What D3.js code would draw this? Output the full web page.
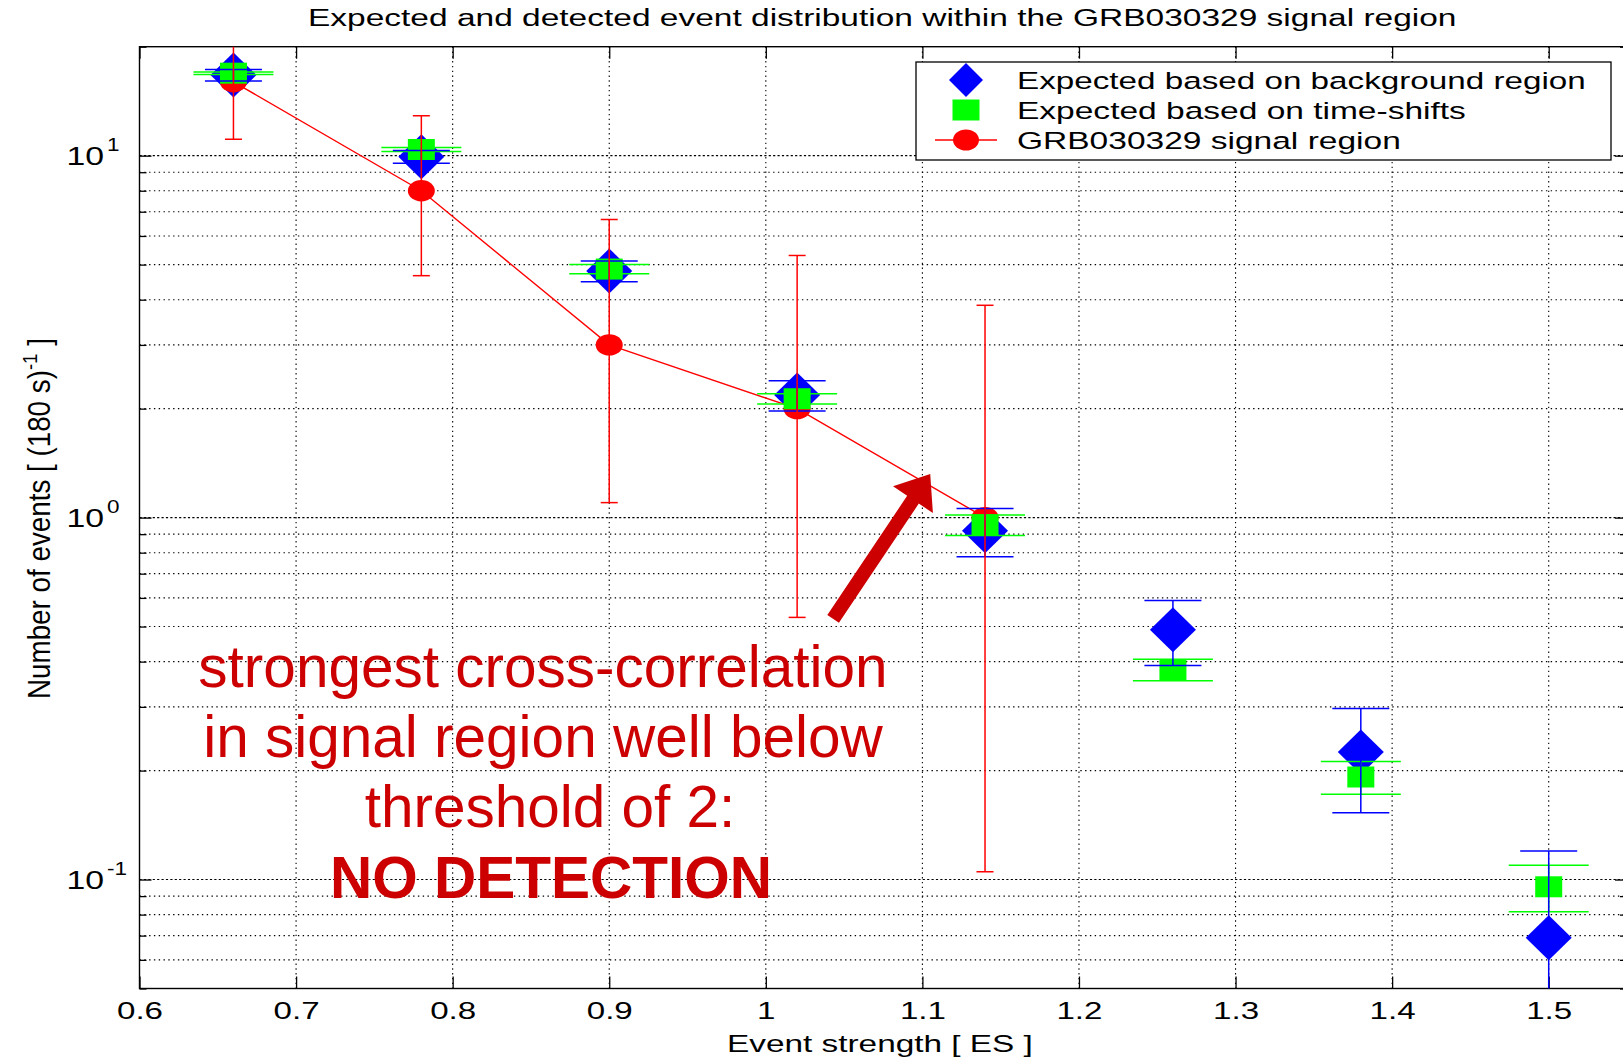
<!DOCTYPE html>
<html>
<head>
<meta charset="utf-8">
<script src="https://cdn.jsdelivr.net/npm/d3@7"></script>
<style>
  html, body { margin: 0; padding: 0; background: #fff; overflow: hidden; }
  svg { display: block; }
  text { font-family: "Liberation Sans", Arial, Helvetica, sans-serif; }
</style>
</head>
<body>
<svg id="chart" width="1623" height="1058"></svg>
<script>
// ---- data ----------------------------------------------------------------
// Event-strength bins shared by the two "expected" series
const esBins = [0.66, 0.78, 0.90, 1.02, 1.14, 1.26, 1.38, 1.50];
// Expected counts from the background region (blue diamonds) and their errors
const bgExpected = [16.7, 9.93, 4.80, 2.18, 0.92, 0.49, 0.225, 0.069];
const bgError    = [0.61, 0.40, 0.32, 0.21, 0.14, 0.10, 0.072, 0.051];
// Expected counts from time-shifts (green squares) and their errors
const tsExpected = [16.9, 10.4, 4.86, 2.13, 0.955, 0.38, 0.192, 0.0955];
const tsError    = [0.14, 0.13, 0.14, 0.07, 0.062, 0.026, 0.020, 0.014];
// Counts detected in the GRB030329 signal region (red circles) with intervals
const signalBins  = [0.66, 0.78, 0.90, 1.02, 1.14];
const signalCount = [16, 8, 3, 2, 1];
const signalLow   = [11.1, 4.66, 1.10, 0.53, 0.105];
const signalHigh  = [22.5, 12.9, 6.66, 5.30, 3.86];

// Axis ticks
const xTicks      = [0.6, 0.7, 0.8, 0.9, 1.0, 1.1, 1.2, 1.3, 1.4, 1.5];
const xTickLabels = ["0.6", "0.7", "0.8", "0.9", "1", "1.1", "1.2", "1.3", "1.4", "1.5"];
const yDecades    = [0.1, 1, 10];
const yDecadeExp  = ["-1", "0", "1"];
const yMinor      = [0.05, 0.06, 0.07, 0.08, 0.09,
                     0.2, 0.3, 0.4, 0.5, 0.6, 0.7, 0.8, 0.9,
                     2, 3, 4, 5, 6, 7, 8, 9, 20];

// Texts
const titleText  = "Expected and detected event distribution within the GRB030329 signal region";
const xLabelText = "Event strength [ ES ]";
const legendLabels = ["Expected based on background region",
                      "Expected based on time-shifts",
                      "GRB030329 signal region"];
const noteLines = ["strongest cross-correlation",
                   "in signal region well below",
                   "threshold of 2:"];
const noteVerdict = "NO DETECTION";
// Arrow from the note towards the signal-region curve, in data units [ES, events]
const arrowFrom = [1.043, 0.525];
const arrowTo   = [1.105, 1.32];

// ---- layout ----------------------------------------------------------------
const svg = d3.select("#chart");
const x = d3.scaleLinear().domain([0.6, 1.55]).range([139.5, 1627]);
const y = d3.scaleLog().domain([0.05, 20]).range([988.5, 46.7]);
const [X0, X1] = x.range();
const [YB, YT] = y.range();

const BLUE = "#0000ff", GREEN = "#00ff00", RED = "#ff0000", NOTE = "#cc0000";

svg.append("rect").attr("width", 1623).attr("height", 1058).attr("fill", "#fff");

svg.append("defs").append("clipPath").attr("id", "plotClip")
  .append("rect").attr("x", X0).attr("y", YT).attr("width", X1 - X0).attr("height", YB - YT);

// Stretched text helper: a group holding one text, scaled horizontally
function sText(parent, tx, ty, str, size, sx, anchor, weight) {
  const g = parent.append("g").attr("transform", `translate(${tx},${ty}) scale(${sx},1)`);
  const t = g.append("text").attr("font-size", size).attr("text-anchor", anchor || "start")
    .attr("fill", "#000").text(str);
  if (weight) t.attr("font-weight", weight);
  return t;
}
// Fit a text to a given width by horizontal scaling
function fitText(parent, tx, ty, str, size, width, anchor, fill, weight) {
  const g = parent.append("g");
  const t = g.append("text").attr("font-size", size).attr("text-anchor", anchor || "start")
    .attr("fill", fill || "#000").text(str);
  if (weight) t.attr("font-weight", weight);
  const w = t.node().getComputedTextLength();
  g.attr("transform", `translate(${tx},${ty}) scale(${width / w},1)`);
  return t;
}

// ---- grid ----------------------------------------------------------------
const grid = svg.append("g").attr("clip-path", "url(#plotClip)").attr("stroke", "#000").attr("stroke-width", 1.1);
grid.selectAll("line.vg").data(xTicks.slice(1)).join("line").attr("class", "vg")
  .attr("x1", d => x(d)).attr("x2", d => x(d)).attr("y1", YT).attr("y2", YB)
  .attr("stroke-dasharray", "1.4,3.4");
grid.selectAll("line.hm").data(yMinor.filter(v => v > 0.05 && v < 20)).join("line").attr("class", "hm")
  .attr("x1", X0).attr("x2", X1).attr("y1", d => y(d)).attr("y2", d => y(d))
  .attr("stroke-dasharray", "1.4,3.4");
grid.selectAll("line.hd").data(yDecades).join("line").attr("class", "hd")
  .attr("x1", X0).attr("x2", X1).attr("y1", d => y(d)).attr("y2", d => y(d))
  .attr("stroke-dasharray", "2.2,2.2");

// ---- axes ----------------------------------------------------------------
function styleAxis(g) {
  g.select(".domain").remove();
  g.selectAll(".tick line").attr("stroke", "#000").attr("stroke-width", 1.3);
}
const xAxisB = svg.append("g").attr("transform", `translate(0,${YB})`)
  .call(d3.axisBottom(x).tickValues(xTicks).tickSizeInner(-12).tickSizeOuter(0)
        .tickPadding(13).tickFormat((d, i) => xTickLabels[i]))
  .call(styleAxis);
xAxisB.attr("font-size", null).attr("font-family", null);
xAxisB.selectAll(".tick text").attr("font-size", 24).attr("fill", "#000")
  .attr("transform", "scale(1.38,1)");

svg.append("g").attr("transform", `translate(0,${YT})`)
  .call(d3.axisTop(x).tickValues(xTicks).tickSizeInner(-12).tickFormat(""))
  .call(styleAxis);
svg.append("g").attr("transform", `translate(${X0},0)`)
  .call(d3.axisLeft(y).tickValues(yDecades).tickSizeInner(-12).tickFormat(""))
  .call(styleAxis);
svg.append("g").attr("transform", `translate(${X0},0)`)
  .call(d3.axisLeft(y).tickValues(yMinor).tickSizeInner(-7).tickFormat(""))
  .call(styleAxis);
svg.append("g").attr("transform", `translate(${X1},0)`)
  .call(d3.axisRight(y).tickValues(yDecades).tickSizeInner(-12).tickFormat(""))
  .call(styleAxis);
svg.append("g").attr("transform", `translate(${X1},0)`)
  .call(d3.axisRight(y).tickValues(yMinor).tickSizeInner(-7).tickFormat(""))
  .call(styleAxis);

svg.append("rect").attr("x", X0).attr("y", YT).attr("width", X1 - X0).attr("height", YB - YT)
  .attr("fill", "none").attr("stroke", "#000").attr("stroke-width", 1.4);

// y tick labels as powers of ten
const yLab = svg.append("g");
yDecades.forEach((v, i) => {
  sText(yLab, 104, y(v) + 9, "10", 26, 1.3, "end");
  sText(yLab, 107, y(v) - 5, yDecadeExp[i], 18, 1.25, "start");
});

// ---- series ----------------------------------------------------------------
const plotG = svg.append("g").attr("clip-path", "url(#plotClip)");
const bgData = esBins.map((e, i) => ({ e, v: bgExpected[i], lo: bgExpected[i] - bgError[i], hi: bgExpected[i] + bgError[i] }));
const tsData = esBins.map((e, i) => ({ e, v: tsExpected[i], lo: tsExpected[i] - tsError[i], hi: tsExpected[i] + tsError[i] }));
const sgData = signalBins.map((e, i) => ({ e, v: signalCount[i], lo: signalLow[i], hi: signalHigh[i] }));

const yc = v => y(Math.max(v, 0.001));

// markers: background diamonds
plotG.append("g").selectAll("path").data(bgData).join("path")
  .attr("d", "M0,-22.5L23,0L0,22.5L-23,0Z")
  .attr("transform", d => `translate(${x(d.e)},${y(d.v)})`)
  .attr("fill", BLUE);

// signal-region connecting line and circles
plotG.append("path").datum(sgData)
  .attr("d", d3.line().x(d => x(d.e)).y(d => y(d.v)))
  .attr("fill", "none").attr("stroke", RED).attr("stroke-width", 1.4);
plotG.append("g").selectAll("ellipse").data(sgData).join("ellipse")
  .attr("cx", d => x(d.e)).attr("cy", d => y(d.v)).attr("rx", 13.5).attr("ry", 10.7)
  .attr("fill", RED);

// time-shift squares
plotG.append("g").selectAll("rect").data(tsData).join("rect")
  .attr("x", d => x(d.e) - 13.5).attr("y", d => y(d.v) - 10.5)
  .attr("width", 27).attr("height", 21).attr("fill", GREEN);

// error bars
function errorBars(data, color, halfCap) {
  const g = plotG.append("g").attr("stroke", color).attr("stroke-width", 1.5);
  const sel = g.selectAll("g").data(data).join("g");
  sel.append("line").attr("x1", d => x(d.e)).attr("x2", d => x(d.e))
    .attr("y1", d => yc(d.lo)).attr("y2", d => yc(d.hi));
  sel.append("line").attr("x1", d => x(d.e) - halfCap).attr("x2", d => x(d.e) + halfCap)
    .attr("y1", d => yc(d.lo)).attr("y2", d => yc(d.lo));
  sel.append("line").attr("x1", d => x(d.e) - halfCap).attr("x2", d => x(d.e) + halfCap)
    .attr("y1", d => yc(d.hi)).attr("y2", d => yc(d.hi));
}
errorBars(tsData, GREEN, 40);
errorBars(bgData, BLUE, 28.5);
errorBars(sgData, RED, 8.5);

// ---- legend ----------------------------------------------------------------
const leg = svg.append("g");
leg.append("rect").attr("x", 916).attr("y", 62).attr("width", 695).attr("height", 98)
  .attr("fill", "#fff").attr("stroke", "#000").attr("stroke-width", 1.3);
const rowY = [80, 110, 140];
leg.append("path").attr("d", "M0,-17L17,0L0,17L-17,0Z")
  .attr("transform", `translate(966,${rowY[0]})`).attr("fill", BLUE);
leg.append("rect").attr("x", 966 - 13.5).attr("y", rowY[1] - 10.5).attr("width", 27).attr("height", 21)
  .attr("fill", GREEN);
leg.append("line").attr("x1", 935).attr("x2", 997).attr("y1", rowY[2]).attr("y2", rowY[2])
  .attr("stroke", RED).attr("stroke-width", 1.4);
leg.append("ellipse").attr("cx", 966).attr("cy", rowY[2]).attr("rx", 13).attr("ry", 10.5).attr("fill", RED);
const legWidths = [569, 449, 384];
legendLabels.forEach((s, i) => fitText(leg, 1017, rowY[i] + 8.5, s, 23.5, legWidths[i]));

// ---- titles ----------------------------------------------------------------
fitText(svg, 308, 26, titleText, 24, 1149);
fitText(svg, 727, 1052, xLabelText, 24, 306);

// y label, rotated, with a superscript exponent
(function () {
  const g = svg.append("g");
  const t = g.append("text").attr("font-size", 24).attr("fill", "#000");
  t.append("tspan").text("Number of events [ (180 s)");
  t.append("tspan").attr("font-size", 16).attr("dy", -10).text("-1");
  t.append("tspan").attr("dy", 10).text(" ]");
  const w = t.node().getComputedTextLength();
  g.attr("transform", `translate(50,699) rotate(-90) scale(${361 / w},1.27)`);
})();

// ---- annotation ----------------------------------------------------------------
const note = svg.append("g");
const noteCenters = [543, 543, 550];
const noteBase = [686.5, 756.5, 826.5];
noteLines.forEach((s, i) => {
  note.append("text").attr("x", noteCenters[i]).attr("y", noteBase[i])
    .attr("text-anchor", "middle").attr("font-size", 58.5).attr("fill", NOTE).text(s);
});
note.append("text").attr("x", 551).attr("y", 898).attr("text-anchor", "middle")
  .attr("font-size", 58.5).attr("font-weight", "bold").attr("fill", NOTE).text(noteVerdict);

// arrow, built in data coordinates
(function () {
  const p0 = [x(arrowFrom[0]), y(arrowFrom[1])];
  const p1 = [x(arrowTo[0]), y(arrowTo[1])];
  const dx = p1[0] - p0[0], dy = p1[1] - p0[1];
  const L = Math.hypot(dx, dy);
  const u = [dx / L, dy / L], n = [-u[1], u[0]];
  const hw = 7, headW = 24, headL = 31;
  const b = [p1[0] - u[0] * headL, p1[1] - u[1] * headL];
  const pts = [
    [p0[0] + n[0] * hw, p0[1] + n[1] * hw],
    [b[0] + n[0] * hw, b[1] + n[1] * hw],
    [b[0] + n[0] * headW, b[1] + n[1] * headW],
    p1,
    [b[0] - n[0] * headW, b[1] - n[1] * headW],
    [b[0] - n[0] * hw, b[1] - n[1] * hw],
    [p0[0] - n[0] * hw, p0[1] - n[1] * hw]
  ];
  note.append("path").attr("d", d3.line()(pts) + "Z").attr("fill", NOTE);
})();
</script>
</body>
</html>
